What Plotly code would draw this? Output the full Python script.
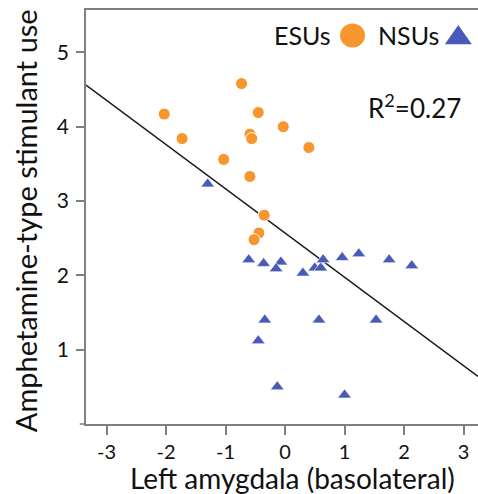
import plotly.graph_objects as go

# ---- data ----
esu_x = [-0.73, -2.03, -0.45, -1.73, -0.59, -0.56, -0.03, 0.40, -1.03, -0.59, -0.35, -0.44, -0.52]
esu_y = [4.58, 4.17, 4.19, 3.84, 3.90, 3.84, 4.00, 3.72, 3.56, 3.33, 2.81, 2.57, 2.48]

nsu_x = [-0.61, -0.36, -0.07, -0.15, 0.30, 0.50, 0.60, 0.64, 0.96, 1.24, 1.75, 2.13,
         -0.34, 0.57, 1.53, -0.45, -0.13, 1.00, -1.30]
nsu_y = [2.21, 2.16, 2.18, 2.09, 2.03, 2.10, 2.10, 2.21, 2.24, 2.29, 2.21, 2.13,
         1.40, 1.40, 1.40, 1.12, 0.50, 0.39, 3.23]

fit_slope = -0.595
fit_intercept = 2.57
r2_label = "R<sup>2</sup>=0.27"

x_ticks = [-3, -2, -1, 0, 1, 2, 3]
x_tick_text = ["-3", "-2", "-1", "0", "1", "2", "3"]
y_ticks = [1, 2, 3, 4, 5]

x_range = [-3.345, 3.243]
y_range = [0, 5.57]

ORANGE = "#F7962F"
BLUE = "#4A5AB8"
AXIS = "#808080"
FONT = "Lato"
TXT = "#111111"

fit_x = x_range
fit_y = [fit_intercept + fit_slope * v for v in fit_x]

fig = go.Figure()
fig.add_trace(go.Scatter(x=fit_x, y=fit_y, mode="lines",
                         line=dict(color="#1a1a1a", width=1.6), showlegend=False,
                         hoverinfo="skip"))
fig.add_trace(go.Scatter(x=nsu_x, y=nsu_y, mode="markers", name="NSUs",
                         marker=dict(symbol="triangle-up", size=12, color=BLUE,
                                     line=dict(color="white", width=0.6)),
                         showlegend=False))
fig.add_trace(go.Scatter(x=esu_x, y=esu_y, mode="markers", name="ESUs",
                         marker=dict(symbol="circle", size=12, color=ORANGE,
                                     line=dict(color="white", width=1)),
                         showlegend=False))

fig.update_layout(
    width=478, height=494,
    margin=dict(l=86, r=0, t=10, b=70, pad=0),
    paper_bgcolor="white", plot_bgcolor="white",
    font=dict(family=FONT, color=TXT),
    xaxis=dict(range=x_range, tickvals=x_ticks, ticktext=x_tick_text,
               showgrid=False, zeroline=False, showline=True, linecolor=AXIS,
               linewidth=1.6, mirror=True, ticks="outside", ticklen=9,
               tickcolor=AXIS, tickwidth=1.6, ticklabelstandoff=0,
               tickfont=dict(size=20, family=FONT, color=TXT)),
    yaxis=dict(range=y_range, tickvals=y_ticks, showgrid=False, zeroline=False,
               showline=True, linecolor=AXIS, linewidth=1.6, ticks="outside",
               ticklen=8, tickcolor=AXIS, tickwidth=1.6, ticklabelstandoff=3,
               tickfont=dict(size=21, family=FONT, color=TXT)),
    annotations=[
        dict(text="Left amygdala (basolateral)", xref="paper", yref="paper",
             x=0.527, y=-0.1304, xanchor="center", yanchor="middle",
             showarrow=False, font=dict(size=28, family=FONT, color=TXT)),
        dict(text="Amphetamine-type stimulant use", xref="paper", yref="paper",
             x=-0.1556, y=0.49, xanchor="center", yanchor="middle", textangle=-90,
             showarrow=False, font=dict(size=29, family=FONT, color=TXT)),
        dict(text=r2_label, xref="paper", yref="paper", x=0.839, y=0.768,
             xanchor="center", yanchor="middle", showarrow=False,
             font=dict(size=26, family=FONT, color=TXT)),
        dict(text="ESUs", xref="paper", yref="paper", x=(333 - 86) / 392, y=0.9395,
             xanchor="right", yanchor="middle", showarrow=False,
             font=dict(size=25, family=FONT, color=TXT)),
        dict(text="NSUs", xref="paper", yref="paper", x=(441 - 86) / 392, y=0.9395,
             xanchor="right", yanchor="middle", showarrow=False,
             font=dict(size=25, family=FONT, color=TXT)),
    ],
    shapes=[
        dict(type="line", xref="paper", yref="paper", x0=-0.016, x1=0, y0=0, y1=0,
             line=dict(color=AXIS, width=1.6)),
        dict(type="circle", xref="paper", yref="paper", xsizemode="pixel",
             ysizemode="pixel", xanchor=(352.5 - 86) / 392,
             yanchor=(423.5 - 35.5) / 413.5, x0=-12.5, x1=12.5, y0=-12, y1=12,
             fillcolor=ORANGE, line=dict(width=0)),
        dict(type="path", xref="paper", yref="paper", xsizemode="pixel",
             ysizemode="pixel", xanchor=(458.3 - 86) / 392,
             yanchor=(423.5 - 34.65) / 413.5,
             path="M -13.5,-9.6 L 13.5,-9.6 L 0,9.6 Z",
             fillcolor=BLUE, line=dict(width=0)),
    ],
)

fig.write_html("out.html",
               config={"displayModeBar": False},
               post_script="document.body.style.margin='0px';"
                           "document.documentElement.style.overflow='hidden';")
